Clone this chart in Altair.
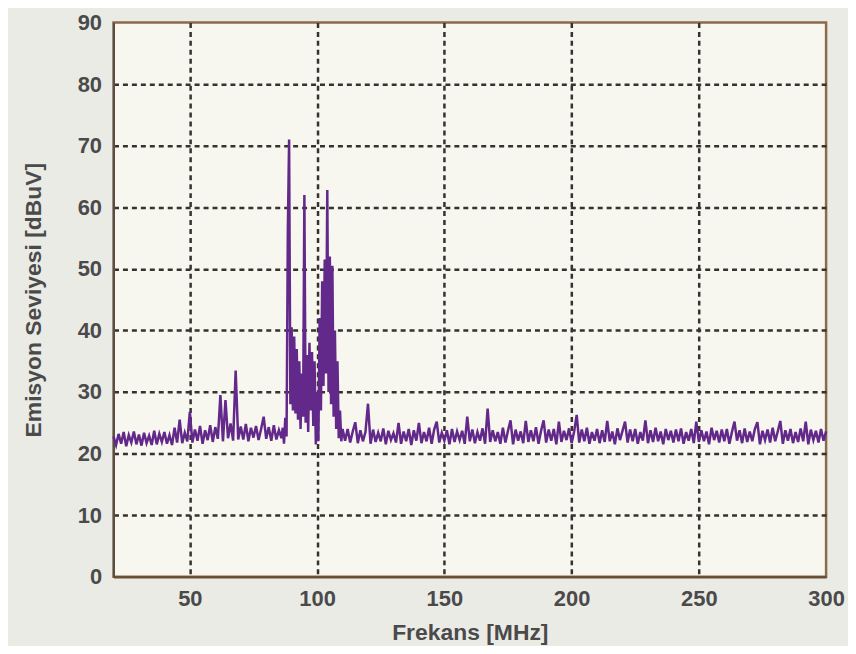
import altair as alt
import pandas as pd

# Sampling grid (MHz)
freq_low = list(range(20, 86))
freq_fm = [86 + 0.5 * i for i in range(49)]
freq_high = list(range(111, 301))

# Emission levels (dBuV)
lvl_low = [
    22.8, 21.4, 23.2, 21.6, 23.5, 21.2, 23.0, 21.8, 23.6, 21.5,
    23.1, 21.3, 23.4, 21.7, 22.9, 21.4, 23.7, 21.5, 23.2, 21.9,
    23.5, 21.6, 23.0, 21.4, 24.2, 21.8, 25.5, 21.7, 23.4, 22.0,
    26.8, 21.8, 23.9, 22.1, 24.5, 21.6, 23.8, 22.2, 24.6, 21.9,
    24.3, 22.4, 29.5, 22.0, 28.7, 22.5, 24.9, 22.1, 33.5, 22.3,
    24.4, 22.3, 24.8, 22.0, 24.2, 22.6, 24.5, 22.2, 24.0, 26.0,
    22.4, 24.3, 22.1, 24.6, 22.3, 23.8,
]
lvl_fm = [
    22.5, 24.2, 21.6, 25.8, 22.8, 56.0, 71.0, 28.0, 40.5, 27.0,
    39.0, 26.5, 37.0, 25.5, 35.0, 24.0, 33.0, 26.0, 62.0, 25.0,
    36.0, 23.5, 38.0, 27.0, 36.5, 24.5, 35.0, 21.5, 30.0, 22.0,
    42.0, 27.0, 48.0, 31.0, 51.5, 33.0, 62.8, 30.0, 52.0, 28.0,
    50.5, 26.0, 40.0, 24.0, 35.0, 22.5, 27.0, 22.0, 24.0,
]
lvl_high = [
    22.1, 24.0, 21.8, 23.6, 25.1, 21.7, 23.8, 22.0, 23.5, 28.1,
    21.6, 23.9, 21.9, 23.4, 22.0, 24.1, 21.5, 23.7, 22.2, 23.3,
    21.8, 25.0, 21.6, 23.6, 22.0, 24.0, 21.4, 23.8, 22.1, 25.0,
    21.7, 23.5, 22.0, 24.2, 21.6, 23.9, 25.2, 21.8, 23.4, 22.1,
    23.8, 21.5, 24.0, 21.9, 23.6, 22.2, 23.7, 21.6, 26.0, 22.0,
    23.9, 21.7, 23.5, 22.1, 24.1, 21.6, 27.3, 21.9, 23.8, 22.0,
    23.5, 21.6, 24.2, 21.8, 23.7, 25.4, 21.5, 23.9, 22.1, 23.6,
    21.7, 25.3, 21.9, 23.8, 22.0, 24.3, 21.6, 23.7, 25.4, 21.8,
    23.9, 22.1, 24.0, 21.5, 25.2, 21.9, 23.7, 22.2, 24.1, 21.7,
    23.6, 26.3, 21.8, 23.9, 22.0, 24.2, 21.6, 23.5, 22.1, 24.0,
    21.7, 23.8, 21.9, 25.3, 22.0, 23.6, 21.5, 24.1, 22.2, 23.7,
    25.2, 21.8, 23.9, 22.0, 24.0, 21.6, 23.5, 22.1, 25.4, 21.7,
    23.8, 21.9, 24.2, 22.0, 23.6, 21.5, 24.0, 22.2, 23.7, 21.8,
    23.9, 22.0, 24.1, 21.6, 23.5, 22.1, 24.0, 21.7, 25.2, 21.9,
    23.8, 22.0, 23.6, 21.5, 24.2, 22.2, 23.7, 21.8, 23.9, 22.0,
    24.0, 21.6, 23.5, 25.2, 22.1, 23.8, 21.7, 24.1, 21.9, 23.6,
    22.0, 24.0, 25.1, 21.5, 23.7, 22.2, 23.9, 21.8, 24.2, 22.0,
    23.6, 25.3, 21.6, 23.8, 22.1, 24.0, 21.7, 23.5, 21.9, 24.1,
    22.0, 25.2, 21.5, 23.9, 22.2, 23.7, 21.8, 24.0, 22.1, 23.6,
]

x_ticks = [50, 100, 150, 200, 250, 300]
y_ticks = [0, 10, 20, 30, 40, 50, 60, 70, 80, 90]

df = pd.DataFrame({
    "f": freq_low + freq_fm + freq_high,
    "v": lvl_low + lvl_fm + lvl_high,
})

FONT = "Liberation Sans"
TXT = "#4a4a4a"
GRID = "#36322d"

x_grid_op = {"condition": {"test": "datum.value >= 300", "value": 0}, "value": 1}
y_grid_op = {"condition": {"test": "datum.value <= 0 || datum.value >= 90", "value": 0}, "value": 1}

chart = alt.Chart(df).mark_line(color="#62288a", strokeWidth=2.5).encode(
    x=alt.X("f:Q",
            scale=alt.Scale(domain=[20, 300], nice=False, zero=False),
            axis=alt.Axis(values=x_ticks, title="Frekans [MHz]", ticks=False,
                          labelPadding=12, titlePadding=12, labelFlush=False,
                          gridOpacity=x_grid_op,
                          domainColor="#6b4f35", domainWidth=2.5)),
    y=alt.Y("v:Q",
            scale=alt.Scale(domain=[0, 90], nice=False),
            axis=alt.Axis(values=y_ticks, title="Emisyon Seviyesi [dBuV]", ticks=False,
                          labelPadding=12, titlePadding=32,
                          gridOpacity=y_grid_op,
                          domainColor="#555048", domainWidth=2)),
).properties(
    width=716, height=557,
    autosize=alt.AutoSizeParams(type="none"),
    padding={"left": 106, "top": 13, "right": 22, "bottom": 68},
    background="#ebebe6",
).configure_view(
    fill="#f7f6ef", stroke="#8a6a4a", strokeWidth=2.5,
).configure_axis(
    labelFont=FONT, labelFontSize=22, labelFontWeight="bold", labelColor=TXT,
    titleFont=FONT, titleFontSize=23, titleFontWeight="bold", titleColor=TXT,
    grid=True, gridColor=GRID, gridDash=[5, 4], gridWidth=2.5,
)

chart.save("out.html", embed_options={"renderer": "svg", "actions": False})
